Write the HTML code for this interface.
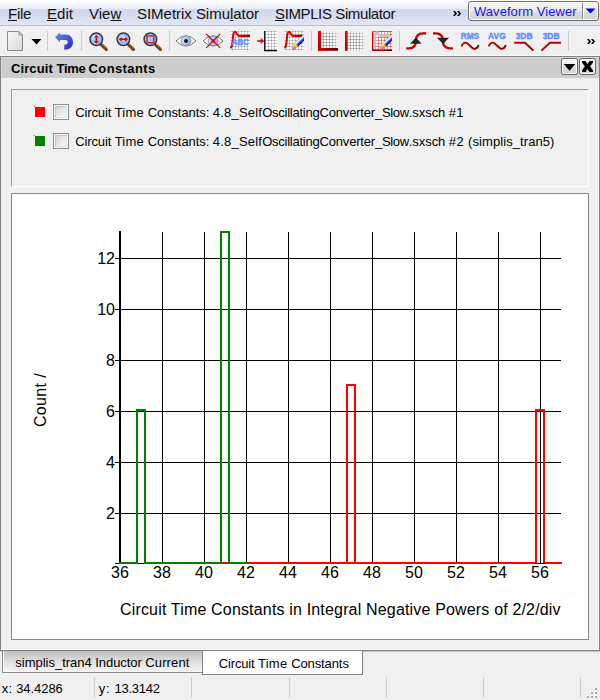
<!DOCTYPE html>
<html><head><meta charset="utf-8">
<style>
html,body{margin:0;padding:0;}
body{width:600px;height:700px;overflow:hidden;position:relative;background:#f0f0f0;font-family:"Liberation Sans",sans-serif;color:#000;}
.abs{position:absolute;}
#menubar{left:0;top:0;width:600px;height:26px;box-sizing:border-box;border-bottom:1px solid #b8bfd4;background:linear-gradient(to bottom,#ffffff 0px,#fdfdff 1px,#e7ebf7 9px,#d3d9ec 9px,#d6dcee 15px,#e1e6f6 25px);}
#menubar span{position:absolute;top:5px;font-size:15px;white-space:nowrap;color:#111;}
#toolbar{left:0;top:26px;width:600px;height:30px;background:#f0f0f0;}
#panel{left:0px;top:55px;width:600px;height:596px;box-sizing:border-box;background:#f0f0f0;border-top:1px solid #fafafa;}
#panel2{left:0;top:56px;width:600px;height:595px;box-sizing:border-box;border:1px solid #828282;box-shadow:inset -1px -1px 0 0 #fafafa;}
#ptitle{left:1px;top:57px;width:598px;height:21px;background:#cdcdcd;box-shadow:inset 1px 1px 0 0 #d8d8d8;}
#ptitle span{position:absolute;left:10px;top:4px;font-weight:bold;font-size:13px;}
#legend{left:11px;top:89px;width:578px;height:98px;border:1px solid #a0a0a0;border-right-color:#fff;border-bottom-color:#fff;box-sizing:border-box;}
.ltxt{font-size:13px;white-space:nowrap;letter-spacing:0.35px;}
.cb{width:16px;height:16px;box-sizing:border-box;border:1px solid #8e8f8f;background:#f4f4f4;}
.cb::after{content:'';position:absolute;left:1px;top:1px;width:12px;height:12px;box-sizing:border-box;border:1px solid #c4c8cc;border-right-color:#e4e6e8;border-bottom-color:#e4e6e8;background:linear-gradient(135deg,#d0d4d8,#ececee 60%,#f6f6f6);}
#graph{left:11px;top:193px;width:578px;height:447px;border:1px solid #828790;box-sizing:border-box;background:#fff;}
.tbtn{top:58px;width:17px;height:17px;box-sizing:border-box;border:1px solid #666666;border-radius:2.5px;background:linear-gradient(#f6f6f6 0,#ececec 45%,#dcdcdc 55%,#d0d0d0 100%);box-shadow:inset 0 0 0 1px #fafafa;}
.ssep{top:677px;width:1px;height:21px;background:#cdcdcd;}
</style></head><body>
<div id="menubar" class="abs"></div><div class="abs" style="left:8px;top:5px;font-size:15px;font-weight:normal;color:#111;white-space:pre;letter-spacing:-0.297px;"><u>F</u>ile</div><div class="abs" style="left:47px;top:5px;font-size:15px;font-weight:normal;color:#111;white-space:pre;letter-spacing:0.035px;"><u>E</u>dit</div><div class="abs" style="left:89px;top:5px;font-size:15px;font-weight:normal;color:#111;white-space:pre;letter-spacing:-0.016px;">Vie<u>w</u></div><div class="abs" style="left:137px;top:5px;font-size:15px;font-weight:normal;color:#111;white-space:pre;letter-spacing:-0.031px;">SIMetrix Simu<u>l</u>ator</div><div class="abs" style="left:275px;top:5px;font-size:15px;font-weight:normal;color:#111;white-space:pre;letter-spacing:-0.384px;"><u>S</u>IMPLIS Simulator</div>
<div class="abs" style="left:468px;top:1px;width:131px;height:20px;box-sizing:border-box;border:1px solid #6f6f6f;border-radius:3px;background:linear-gradient(#f4f4f4 0,#ececec 48%,#dedede 52%,#d2d2d2 100%);box-shadow:inset 0 0 0 1px #fafafa"></div>
<div class="abs" id="wv" style="left:474px;top:4px;font-size:13px;color:#1414ff;white-space:nowrap;letter-spacing:0.05px">Waveform Viewer</div>
<div id="toolbar" class="abs"></div>
<svg class="abs" style="left:0;top:0" width="600" height="60" viewBox="0 0 600 60">
<defs>
<linearGradient id="gdoc" x1="0" y1="0" x2="1" y2="1"><stop offset="0" stop-color="#fafafa"/><stop offset="1" stop-color="#d8d8d8"/></linearGradient>
<linearGradient id="gundo" x1="0" y1="0" x2="1" y2="1"><stop offset="0" stop-color="#5a96e6"/><stop offset="1" stop-color="#2a22c8"/></linearGradient>
<radialGradient id="glens" cx="0.35" cy="0.3" r="0.8"><stop offset="0" stop-color="#c4dcff"/><stop offset="1" stop-color="#84acf0"/></radialGradient>
<linearGradient id="giris" x1="0" y1="0" x2="1" y2="0.3"><stop offset="0" stop-color="#dce8fc"/><stop offset="0.5" stop-color="#b8ccf6"/><stop offset="1" stop-color="#98aeec"/></linearGradient>
<linearGradient id="gredv" x1="0" y1="0" x2="0" y2="1"><stop offset="0" stop-color="#ff0000"/><stop offset="1" stop-color="#a00000"/></linearGradient>
<linearGradient id="gredh" x1="0" y1="0" x2="1" y2="0"><stop offset="0" stop-color="#d40000"/><stop offset="1" stop-color="#580000"/></linearGradient>
<linearGradient id="gsine" x1="0" y1="0" x2="1" y2="0"><stop offset="0" stop-color="#cc0000"/><stop offset="0.5" stop-color="#b00000"/><stop offset="1" stop-color="#800000"/></linearGradient>
<linearGradient id="gcurve" x1="0" y1="0" x2="1" y2="0"><stop offset="0" stop-color="#e00000"/><stop offset="0.6" stop-color="#d80000"/><stop offset="1" stop-color="#980000"/></linearGradient>
<linearGradient id="gpen" gradientUnits="userSpaceOnUse" x1="382.6" y1="42.9" x2="386.1" y2="46.6"><stop offset="0" stop-color="#70788c"/><stop offset="0.12" stop-color="#ffffff"/><stop offset="0.3" stop-color="#dce6ff"/><stop offset="0.46" stop-color="#7896ff"/><stop offset="0.6" stop-color="#2848e0"/><stop offset="0.85" stop-color="#1020a8"/><stop offset="1" stop-color="#081070"/></linearGradient>
<linearGradient id="gyel" gradientUnits="userSpaceOnUse" x1="381.7" y1="43.6" x2="385.4" y2="47.3"><stop offset="0" stop-color="#c8b000"/><stop offset="0.15" stop-color="#fff400"/><stop offset="0.55" stop-color="#ffe000"/><stop offset="1" stop-color="#e89000"/></linearGradient>
<linearGradient id="gera" gradientUnits="userSpaceOnUse" x1="380.1" y1="46.3" x2="383" y2="49.2"><stop offset="0" stop-color="#f4b0b4"/><stop offset="0.5" stop-color="#e08890"/><stop offset="1" stop-color="#b06068"/></linearGradient>
<linearGradient id="gfadev" x1="0" y1="0" x2="0" y2="1"><stop offset="0" stop-color="#f0f0f0" stop-opacity="0.75"/><stop offset="0.22" stop-color="#f0f0f0" stop-opacity="0"/></linearGradient>
<linearGradient id="garr" x1="0" y1="0" x2="1" y2="0"><stop offset="0" stop-color="#e85050"/><stop offset="0.5" stop-color="#d81818"/><stop offset="1" stop-color="#c00000"/></linearGradient>
<linearGradient id="gfade" x1="0" y1="0" x2="1" y2="0"><stop offset="0" stop-color="#f0f0f0" stop-opacity="0"/><stop offset="0.7" stop-color="#f0f0f0" stop-opacity="0"/><stop offset="1" stop-color="#f0f0f0" stop-opacity="0.9"/></linearGradient>
<g id="mag"><path d="M5.3 5.6L10 10" stroke="#7c3a0e" stroke-width="3.2" stroke-linecap="round"/><path d="M5.6 4.8L10.6 9.4" stroke="#c06a2a" stroke-width="0.9"/><circle cx="0" cy="0" r="6.3" fill="url(#glens)" stroke="#303030" stroke-width="1.4"/><circle cx="0" cy="0" r="5.3" fill="none" stroke="#7890b8" stroke-width="0.8" opacity="0.7"/></g>
</defs>
<path d="M47.5 31V51M81.5 31V51M169.5 31V51M311.5 31V51M399.5 31V51M568.5 31V51" stroke="#cdcdcd"/>
<path d="M7.5 31.5h11l4 4v15h-15z" fill="url(#gdoc)" stroke="#8a8a8a"/>
<path d="M19 31.5v3.5h3.5z" fill="#f4f4f4" stroke="#8a8a8a" stroke-linejoin="round"/>
<path d="M31.5 39h10l-5 5.5z" fill="#000"/>
<path d="M55 37.25L60 32.5V34.5H66C70.2 34.5 73 38 73 42.25C73 46.7 70 49.75 64.25 49.75V44.75C66.6 44.75 67.75 44 67.75 42.3C67.75 40.8 66.8 40 65.5 40H60V41.9z" fill="url(#gundo)"/>
<use href="#mag" x="96.3" y="39.3"/><use href="#mag" x="123.4" y="39.3"/><use href="#mag" x="150.4" y="39.3"/>
<path transform="translate(96.3,39.3)" d="M0 -4.4L2.4 -1.7H0.75V1.7H2.4L0 4.4L-2.4 1.7H-0.75V-1.7H-2.4Z" fill="#dc0000"/>
<path transform="translate(123.4,39.3) rotate(90)" d="M0 -4.6L2.4 -1.8H0.75V1.8H2.4L0 4.6L-2.4 1.8H-0.75V-1.8H-2.4Z" fill="#dc0000"/>
<rect x="147" y="35.9" width="6.8" height="6.8" fill="#a4c2f6" stroke="#cc2030" stroke-width="1.4"/>
<g><path d="M176 40.9Q186 30.6 196 40.9Q186 51.2 176 40.9z" fill="#fff9ee" stroke="#5a5a5a" stroke-width="0.8"/><circle cx="186" cy="40.9" r="4.9" fill="url(#giris)" stroke="#7c86a4" stroke-width="0.8"/><circle cx="186" cy="40.9" r="2" fill="#181818"/></g>
<g><path d="M203.1 40.9Q213.1 30.6 223.1 40.9Q213.1 51.2 203.1 40.9z" fill="#fff9ee" stroke="#5a5a5a" stroke-width="0.8"/><circle cx="213.1" cy="40.9" r="4.900" fill="url(#giris)" stroke="#7c86a4" stroke-width="0.8"/><rect x="211.7" y="39.5" width="2.8" height="2.8" fill="#c40000"/><path d="M206.2 34L220.2 47.8M220.2 34L206.2 47.8" stroke="#d40010" stroke-width="1.1"/></g>
<rect x="230" y="31" width="20" height="19.5" fill="#ffffff"/>
<path d="M232.5 31V50.5M235.5 31V50.5M238.5 31V50.5M241.5 31V50.5M244.5 31V50.5M247.5 31V50.5M230 31.5H250M230 34.5H250M230 37.5H250M230 40.5H250M230 43.5H250M230 46.5H250M230 49.5H250" stroke="#cecece" stroke-width="1" fill="none"/>
<path d="M232 31.5h1M232 34.5h1M232 37.5h1M232 40.5h1M232 43.5h1M232 46.5h1M232 49.5h1M235 31.5h1M235 34.5h1M235 37.5h1M235 40.5h1M235 43.5h1M235 46.5h1M235 49.5h1M238 31.5h1M238 34.5h1M238 37.5h1M238 40.5h1M238 43.5h1M238 46.5h1M238 49.5h1M241 31.5h1M241 34.5h1M241 37.5h1M241 40.5h1M241 43.5h1M241 46.5h1M241 49.5h1M244 31.5h1M244 34.5h1M244 37.5h1M244 40.5h1M244 43.5h1M244 46.5h1M244 49.5h1M247 31.5h1M247 34.5h1M247 37.5h1M247 40.5h1M247 43.5h1M247 46.5h1M247 49.5h1" stroke="#9c9c9c" stroke-width="1" fill="none"/>
<path d="M230.3 47.700C232.500 47 232.200 44 232.600 41C233.200 36 233.200 31.8 235 31.8C237 31.8 236.800 35.9 239 35.9H250" stroke="url(#gcurve)" stroke-width="2.1" fill="none"/>
<text x="231.8" y="44.9" font-family="Liberation Sans" font-weight="bold" font-size="8.3" fill="#6890ff" stroke="#6890ff" stroke-width="0.35" textLength="17.3" lengthAdjust="spacingAndGlyphs">ABC</text>
<rect x="265" y="31" width="12.3" height="19" fill="#ffffff"/>
<path d="M268.5 31V50M271.5 31V50M274.5 31V50M265 31.5H277.3M265 34.5H277.3M265 37.5H277.3M265 40.5H277.3M265 43.5H277.3M265 46.5H277.3" stroke="#cecece" stroke-width="1" fill="none"/>
<path d="M268 31.5h1M268 34.5h1M268 37.5h1M268 40.5h1M268 43.5h1M268 46.5h1M271 31.5h1M271 34.5h1M271 37.5h1M271 40.5h1M271 43.5h1M271 46.5h1M274 31.5h1M274 34.5h1M274 37.5h1M274 40.5h1M274 43.5h1M274 46.5h1" stroke="#9c9c9c" stroke-width="1" fill="none"/>
<path d="M264.8 31.1V50.5H277" stroke="#000" stroke-width="1.35" fill="none"/>
<path d="M257 39.9H260.800V37.9L264.200 41L260.800 44.100V42.100H257z" fill="url(#garr)"/>
<rect x="284" y="31" width="20" height="19.5" fill="#ffffff"/>
<path d="M286.5 31V50.5M289.5 31V50.5M292.5 31V50.5M295.5 31V50.5M298.5 31V50.5M301.5 31V50.5M284 31.5H304M284 34.5H304M284 37.5H304M284 40.5H304M284 43.5H304M284 46.5H304M284 49.5H304" stroke="#cecece" stroke-width="1" fill="none"/>
<path d="M286 31.5h1M286 34.5h1M286 37.5h1M286 40.5h1M286 43.5h1M286 46.5h1M286 49.5h1M289 31.5h1M289 34.5h1M289 37.5h1M289 40.5h1M289 43.5h1M289 46.5h1M289 49.5h1M292 31.5h1M292 34.5h1M292 37.5h1M292 40.5h1M292 43.5h1M292 46.5h1M292 49.5h1M295 31.5h1M295 34.5h1M295 37.5h1M295 40.5h1M295 43.5h1M295 46.5h1M295 49.5h1M298 31.5h1M298 34.5h1M298 37.5h1M298 40.5h1M298 43.5h1M298 46.5h1M298 49.5h1M301 31.5h1M301 34.5h1M301 37.5h1M301 40.5h1M301 43.5h1M301 46.5h1M301 49.5h1" stroke="#9c9c9c" stroke-width="1" fill="none"/>
<path d="M284.3 47.700C286.500 47 286.200 44 286.600 41C287.200 36 287.200 31.8 289 31.8C291 31.8 290.800 35.9 293 35.9H302.500" stroke="url(#gcurve)" stroke-width="2.1" fill="none"/>
<g transform="translate(-88,0)">
<polygon points="391.7,34.2 392,34.4 392,40.8 386.3,46.4 382.6,42.9" fill="url(#gpen)"/>
<polygon points="382.6,42.9 386.3,46.4 384.6,48.1 380.9,44.4" fill="url(#gyel)"/>
<polygon points="381.5,44.9 384.3,47.7 381.6,50.6 378.8,47.8" fill="url(#gera)"/>
</g>
<rect x="321" y="31" width="17" height="17" fill="#fbfbfb"/>
<path d="M323.5 31V48M326.5 31V48M329.5 31V48M332.5 31V48M335.5 31V48M321 33.5H338M321 36.5H338M321 39.5H338M321 42.5H338M321 45.5H338" stroke="#bebebe" stroke-width="1" fill="none"/>
<path d="M323 33.5h1M323 36.5h1M323 39.5h1M323 42.5h1M323 45.5h1M326 33.5h1M326 36.5h1M326 39.5h1M326 42.5h1M326 45.5h1M329 33.5h1M329 36.5h1M329 39.5h1M329 42.5h1M329 45.5h1M332 33.5h1M332 36.5h1M332 39.5h1M332 42.5h1M332 45.5h1M335 33.5h1M335 36.5h1M335 39.5h1M335 42.5h1M335 45.5h1" stroke="#8e8e8e" stroke-width="1" fill="none"/>
<rect x="321" y="31" width="17" height="17" fill="url(#gfadev)"/>
<rect x="321" y="31" width="17" height="17" fill="url(#gfade)"/>
<rect x="318" y="31" width="3" height="19.8" fill="url(#gredv)"/><rect x="318" y="48" width="20" height="2.8" fill="url(#gredh)"/>
<rect x="348" y="31" width="17" height="20" fill="#fbfbfb"/>
<path d="M350.5 31V51M353.5 31V51M356.5 31V51M359.5 31V51M362.5 31V51M348 33.5H365M348 36.5H365M348 39.5H365M348 42.5H365M348 45.5H365M348 48.5H365" stroke="#bebebe" stroke-width="1" fill="none"/>
<path d="M350 33.5h1M350 36.5h1M350 39.5h1M350 42.5h1M350 45.5h1M350 48.5h1M353 33.5h1M353 36.5h1M353 39.5h1M353 42.5h1M353 45.5h1M353 48.5h1M356 33.5h1M356 36.5h1M356 39.5h1M356 42.5h1M356 45.5h1M356 48.5h1M359 33.5h1M359 36.5h1M359 39.5h1M359 42.5h1M359 45.5h1M359 48.5h1M362 33.5h1M362 36.5h1M362 39.5h1M362 42.5h1M362 45.5h1M362 48.5h1" stroke="#8e8e8e" stroke-width="1" fill="none"/>
<rect x="348" y="31" width="17" height="20" fill="url(#gfadev)"/>
<rect x="347.5" y="31" width="17.5" height="19.8" fill="url(#gfade)"/>
<rect x="345" y="31" width="2.6" height="19.8" fill="url(#gredv)"/>
<rect x="372" y="31" width="20" height="20" fill="#ffffff"/>
<path d="M372.5 31V51M375.5 31V51M378.5 31V51M381.5 31V51M384.5 31V51M387.5 31V51M390.5 31V51M372 31.5H392M372 34.5H392M372 37.5H392M372 40.5H392M372 43.5H392M372 46.5H392M372 49.5H392" stroke="#f09494" stroke-width="1" fill="none"/>
<path d="M372 31.5h1M372 34.5h1M372 37.5h1M372 40.5h1M372 43.5h1M372 46.5h1M372 49.5h1M375 31.5h1M375 34.5h1M375 37.5h1M375 40.5h1M375 43.5h1M375 46.5h1M375 49.5h1M378 31.5h1M378 34.5h1M378 37.5h1M378 40.5h1M378 43.5h1M378 46.5h1M378 49.5h1M381 31.5h1M381 34.5h1M381 37.5h1M381 40.5h1M381 43.5h1M381 46.5h1M381 49.5h1M384 31.5h1M384 34.5h1M384 37.5h1M384 40.5h1M384 43.5h1M384 46.5h1M384 49.5h1M387 31.5h1M387 34.5h1M387 37.5h1M387 40.5h1M387 43.5h1M387 46.5h1M387 49.5h1M390 31.5h1M390 34.5h1M390 37.5h1M390 40.5h1M390 43.5h1M390 46.5h1M390 49.5h1" stroke="#e05c5c" stroke-width="1" fill="none"/>
<rect x="372" y="31" width="1.500" height="20" fill="url(#gredv)"/><rect x="372" y="49.500" width="20" height="1.500" fill="url(#gredh)"/><path d="M372 31.5H392" stroke="#e45050"/>
<path d="M374.2 46.600C375.2 43 374.6 32.4 376.9 32.4C378.7 32.4 378.2 35.7 380.4 35.7H389.2" stroke="#c8c8c8" stroke-width="2.500" fill="none"/>
<g transform="translate(0,0)">
<polygon points="391.7,34.2 392,34.4 392,40.8 386.3,46.4 382.6,42.9" fill="url(#gpen)"/>
<polygon points="382.6,42.9 386.3,46.4 384.6,48.1 380.9,44.4" fill="url(#gyel)"/>
<polygon points="381.5,44.9 384.3,47.7 381.6,50.6 378.8,47.8" fill="url(#gera)"/>
</g>
<path d="M406.2 48.3H409C414.2 48.3 415.8 45 415.8 41C415.8 37 417.6 33.3 423 33.3H426.2" stroke="#c80000" stroke-width="2.3" fill="none"/>
<path d="M410 43.7L415.8 37.4L421.6 43.7z" fill="#242424"/>
<path d="M433 33.3H436C441.2 33.3 443 37 443 41C443 45 444.8 48.3 450 48.3H453" stroke="#c80000" stroke-width="2.3" fill="none"/>
<path d="M437 37.8L449 37.8L443 43.9z" fill="#242424"/>
<g font-family="Liberation Sans" font-weight="bold" font-size="8.3" fill="#5c8cff" stroke="#5c8cff" stroke-width="0.35">
<text x="460.7" y="38.6" textLength="18.4" lengthAdjust="spacingAndGlyphs">RMS</text>
<text x="488.1" y="38.6" textLength="17.6" lengthAdjust="spacingAndGlyphs">AVG</text>
<text x="515.7" y="38.6" textLength="16.8" lengthAdjust="spacingAndGlyphs">3DB</text>
<text x="542.7" y="38.6" textLength="16.8" lengthAdjust="spacingAndGlyphs">3DB</text>
</g>
<path transform="translate(0,0)" d="M461.4 46.3C462.6 43.6 464 42.6 465.600 42.6C468.5 42.6 471.5 48.9 474.4 48.9C476.2 48.9 477.600 47.8 478.7 45.2" stroke="url(#gsine)" stroke-width="1.9" fill="none"/>
<path transform="translate(27.2,0)" d="M461.4 46.3C462.6 43.6 464 42.6 465.600 42.6C468.5 42.6 471.5 48.9 474.4 48.9C476.2 48.9 477.600 47.8 478.7 45.2" stroke="url(#gsine)" stroke-width="1.9" fill="none"/>
<path d="M514.2 42.8H525L533.4 50.6" stroke="url(#gsine)" stroke-width="1.9" fill="none"/>
<path d="M541.4 50.600L549.9 42.8H561" stroke="#b40000" stroke-width="1.9" fill="none"/>
<path d="M453 11h2l2 2.5l-2 2.5h-2l2-2.5zM457 11h2l2 2.5l-2 2.5h-2l2-2.5z" fill="#000"/>
<path d="M587 39h2l2 2.5l-2 2.5h-2l2-2.5zM591 39h2l2 2.5l-2 2.5h-2l2-2.5z" fill="#000"/>
<path d="M582.5 3V19" stroke="#8a8a8a"/><path d="M583.5 3V19" stroke="#fafafa"/>
<path d="M585.5 8.5h10l-5 5z" fill="#0000ff"/>
</svg>
<div id="panel" class="abs"></div><div id="panel2" class="abs"></div>
<div id="ptitle" class="abs"></div><div class="abs" style="left:11px;top:61px;font-size:13px;font-weight:bold;color:#000;white-space:pre;letter-spacing:0.100px;">Circuit </div><div class="abs" style="left:56.6px;top:61px;font-size:13px;font-weight:bold;color:#000;white-space:pre;letter-spacing:-0.344px;">Time </div><div class="abs" style="left:88.6px;top:61px;font-size:13px;font-weight:bold;color:#000;white-space:pre;letter-spacing:0.382px;">Constants</div>
<div class="abs tbtn" style="left:561px"></div><div class="abs tbtn" style="left:579px"></div>
<svg class="abs" style="left:555px;top:56px" width="45" height="22" viewBox="555 56 45 22"><path d="M563.700 64h11.600l-5.800 6.800z" fill="#000"/><polygon points="582,61 585.5,61 587.5,64 589.5,61 593,61 593,62.5 590.1,66.5 593,70.5 593,72 589.5,72 587.5,69 585.5,72 582,72 582,70.5 584.9,66.5 582,62.5" fill="#000"/></svg>
<div id="legend" class="abs"></div>
<div class="abs" style="left:35px;top:107px;width:10px;height:10px;background:#ff0000"></div><div class="abs" style="left:34px;top:106px;width:1px;height:1px;background:#e04040"></div>
<div class="abs cb" style="left:53px;top:104px"></div>
<div class="abs" style="left:75.2px;top:105px;font-size:13px;font-weight:normal;color:#000;white-space:pre;letter-spacing:-0.119px;">Circuit </div><div class="abs" style="left:114.7px;top:105px;font-size:13px;font-weight:normal;color:#000;white-space:pre;letter-spacing:0.214px;">Time </div><div class="abs" style="left:147.8px;top:105px;font-size:13px;font-weight:normal;color:#000;white-space:pre;letter-spacing:-0.070px;">Constants: </div><div class="abs" style="left:212.8px;top:105px;font-size:13px;font-weight:normal;color:#000;white-space:pre;letter-spacing:0.212px;">4.8_Self</div><div class="abs" style="left:262.2px;top:105px;font-size:13px;font-weight:normal;color:#000;white-space:pre;letter-spacing:-0.243px;">Oscillating</div><div class="abs" style="left:319.5px;top:105px;font-size:13px;font-weight:normal;color:#000;white-space:pre;letter-spacing:-0.175px;">Converter</div><div class="abs" style="left:375px;top:105px;font-size:13px;font-weight:normal;color:#000;white-space:pre;letter-spacing:-0.324px;">_Slow</div><div class="abs" style="left:408.8px;top:105px;font-size:13px;font-weight:normal;color:#000;white-space:pre;letter-spacing:-0.067px;">.sxsch </div><div class="abs" style="left:448.8px;top:105px;font-size:13px;font-weight:normal;color:#000;white-space:pre;letter-spacing:0.266px;">#1</div>
<div class="abs" style="left:35px;top:136px;width:10px;height:10px;background:#008000"></div><div class="abs" style="left:34px;top:135px;width:1px;height:1px;background:#40a040"></div>
<div class="abs cb" style="left:53px;top:133px"></div>
<div class="abs" style="left:75.2px;top:134px;font-size:13px;font-weight:normal;color:#000;white-space:pre;letter-spacing:-0.119px;">Circuit </div><div class="abs" style="left:114.7px;top:134px;font-size:13px;font-weight:normal;color:#000;white-space:pre;letter-spacing:0.214px;">Time </div><div class="abs" style="left:147.8px;top:134px;font-size:13px;font-weight:normal;color:#000;white-space:pre;letter-spacing:-0.070px;">Constants: </div><div class="abs" style="left:212.8px;top:134px;font-size:13px;font-weight:normal;color:#000;white-space:pre;letter-spacing:0.212px;">4.8_Self</div><div class="abs" style="left:262.2px;top:134px;font-size:13px;font-weight:normal;color:#000;white-space:pre;letter-spacing:-0.243px;">Oscillating</div><div class="abs" style="left:319.5px;top:134px;font-size:13px;font-weight:normal;color:#000;white-space:pre;letter-spacing:-0.175px;">Converter</div><div class="abs" style="left:375px;top:134px;font-size:13px;font-weight:normal;color:#000;white-space:pre;letter-spacing:-0.324px;">_Slow</div><div class="abs" style="left:408.8px;top:134px;font-size:13px;font-weight:normal;color:#000;white-space:pre;letter-spacing:-0.067px;">.sxsch </div><div class="abs" style="left:448.8px;top:134px;font-size:13px;font-weight:normal;color:#000;white-space:pre;letter-spacing:0.374px;">#2 </div><div class="abs" style="left:468px;top:134px;font-size:13px;font-weight:normal;color:#000;white-space:pre;letter-spacing:0.083px;">(simplis_tran5)</div>
<div id="graph" class="abs"></div>
<svg class="abs" style="left:0;top:0" width="600" height="700" viewBox="0 0 600 700">
<g stroke="#000" stroke-width="1" shape-rendering="crispEdges">
<path d="M162.5 232V563M204.5 232V563M246.5 232V563M288.5 232V563M330.5 232V563M372.5 232V563M414.5 232V563M456.5 232V563M498.5 232V563M540.5 232V563"/>
<path d="M115 513.5H561M115 462.5H561M115 411.5H561M115 360.5H561M115 309.5H561M115 258.5H561M115 563.5H561"/>
<path d="M120 231V562" stroke-width="2"/>
</g>
<g fill="none" stroke-width="2" shape-rendering="crispEdges">
<path d="M222 563H228M247 563H535M545 563H562" stroke="#ff0000"/>
<path d="M119 563H137V410H145V563M144 563H221V232H229V563M228 563H247" stroke="#008000"/>
<path d="M347 563V385H355V563" stroke="#ff0000"/>
<path d="M536 563V410H544V563" stroke="#ff0000"/>
</g>
<g font-family="Liberation Sans" font-size="16" fill="#000" text-anchor="middle">
<text x="120" y="578">36</text>
<text x="162" y="578">38</text>
<text x="204" y="578">40</text>
<text x="246" y="578">42</text>
<text x="288" y="578">44</text>
<text x="330" y="578">46</text>
<text x="372" y="578">48</text>
<text x="414" y="578">50</text>
<text x="456" y="578">52</text>
<text x="498" y="578">54</text>
<text x="540" y="578">56</text>
</g>
<g font-family="Liberation Sans" font-size="16" fill="#000" text-anchor="end">
<text x="115" y="519">2</text>
<text x="115" y="468">4</text>
<text x="115" y="417">6</text>
<text x="115" y="366">8</text>
<text x="115" y="315">10</text>
<text x="115" y="264">12</text>
</g>
<text id="xt" x="120" y="615" font-family="Liberation Sans" font-size="16" textLength="440.6" lengthAdjust="spacing">Circuit Time Constants in Integral Negative Powers of 2/2/div</text>
<text id="yt" transform="translate(46,427) rotate(-90)" font-family="Liberation Sans" font-size="16" textLength="53.6" lengthAdjust="spacing">Count /</text>
</svg>
<div class="abs" style="left:0;top:651px;width:600px;height:1px;background:#c4c4c4"></div>
<div class="abs" style="left:2px;top:651px;width:201px;height:22px;background:linear-gradient(#bebebe 0,#d2d2d2 30%,#e8e8e8 65%,#f2f2f2 100%);border:1px solid #8c8c8c;border-top:none;box-sizing:border-box;box-shadow:inset 1px -1px 0 0 #fafafa"></div>
<div class="abs" style="left:202px;top:651px;width:161px;height:24px;background:#fff;border:1px solid #80808a;border-top:none;box-sizing:border-box"></div>
<div class="abs" style="left:15.3px;top:655px;font-size:13px;font-weight:normal;color:#000;white-space:pre;letter-spacing:-0.015px;">simplis_tran4 </div><div class="abs" style="left:95.3px;top:655px;font-size:13px;font-weight:normal;color:#000;white-space:pre;letter-spacing:-0.066px;">Inductor </div><div class="abs" style="left:145.3px;top:655px;font-size:13px;font-weight:normal;color:#000;white-space:pre;letter-spacing:0.120px;">Current</div>
<div class="abs" style="left:218.8px;top:656px;font-size:13px;font-weight:normal;color:#000;white-space:pre;letter-spacing:-0.157px;">Circuit </div><div class="abs" style="left:258px;top:656px;font-size:13px;font-weight:normal;color:#000;white-space:pre;letter-spacing:0.234px;">Time </div><div class="abs" style="left:291.2px;top:656px;font-size:13px;font-weight:normal;color:#000;white-space:pre;letter-spacing:-0.105px;">Constants</div>
<div class="abs" style="left:1.7px;top:681px;font-size:13px;font-weight:normal;color:#000;white-space:pre;letter-spacing:0.255px;">x: </div><div class="abs" style="left:16.2px;top:681px;font-size:13px;font-weight:normal;color:#000;white-space:pre;letter-spacing:-0.057px;">34.4286</div>
<div class="abs" style="left:98.8px;top:681px;font-size:13px;font-weight:normal;color:#000;white-space:pre;letter-spacing:0.655px;">y: </div><div class="abs" style="left:114.5px;top:681px;font-size:13px;font-weight:normal;color:#000;white-space:pre;letter-spacing:-0.243px;">13.3142</div>
<div class="abs ssep" style="left:94px"></div><div class="abs ssep" style="left:191px"></div><div class="abs ssep" style="left:289px"></div><div class="abs ssep" style="left:386px"></div><div class="abs ssep" style="left:483px"></div><div class="abs ssep" style="left:580px"></div>
<svg class="abs" style="left:584px;top:684px" width="16" height="16" viewBox="584 684 16 16"><rect x="594" y="687" width="2" height="2" fill="#fff"/><rect x="595" y="688" width="2" height="2" fill="#a8a8a8"/><rect x="590" y="691" width="2" height="2" fill="#fff"/><rect x="591" y="692" width="2" height="2" fill="#a8a8a8"/><rect x="594" y="691" width="2" height="2" fill="#fff"/><rect x="595" y="692" width="2" height="2" fill="#a8a8a8"/><rect x="586" y="695" width="2" height="2" fill="#fff"/><rect x="587" y="696" width="2" height="2" fill="#a8a8a8"/><rect x="590" y="695" width="2" height="2" fill="#fff"/><rect x="591" y="696" width="2" height="2" fill="#a8a8a8"/><rect x="594" y="695" width="2" height="2" fill="#fff"/><rect x="595" y="696" width="2" height="2" fill="#a8a8a8"/></svg>
</body></html>
